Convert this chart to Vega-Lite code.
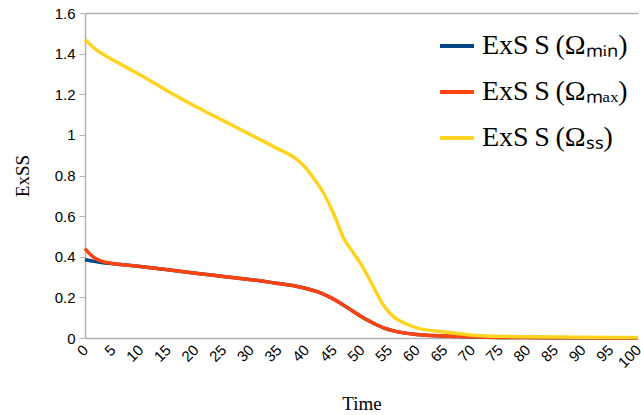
{
  "$schema": "https://vega.github.io/schema/vega-lite/v6.json",
  "autosize": "none",
  "width": 553,
  "height": 325,
  "padding": {"left": 85, "top": 13, "right": 3, "bottom": 77},
  "background": "white",
  "config": {"view": {"stroke": null}},
  "datasets": {
    "rows": [
      {"t": 0, "s": "min", "v": 0.385},
      {"t": 1, "s": "min", "v": 0.38},
      {"t": 2, "s": "min", "v": 0.376},
      {"t": 3, "s": "min", "v": 0.372},
      {"t": 5, "s": "min", "v": 0.366},
      {"t": 10, "s": "min", "v": 0.352},
      {"t": 15, "s": "min", "v": 0.336},
      {"t": 20, "s": "min", "v": 0.319},
      {"t": 25, "s": "min", "v": 0.303},
      {"t": 30, "s": "min", "v": 0.287},
      {"t": 35, "s": "min", "v": 0.268},
      {"t": 38, "s": "min", "v": 0.256},
      {"t": 40, "s": "min", "v": 0.244},
      {"t": 42, "s": "min", "v": 0.228},
      {"t": 44, "s": "min", "v": 0.205},
      {"t": 46, "s": "min", "v": 0.175},
      {"t": 48, "s": "min", "v": 0.14},
      {"t": 50, "s": "min", "v": 0.105},
      {"t": 52, "s": "min", "v": 0.075},
      {"t": 54, "s": "min", "v": 0.05},
      {"t": 56, "s": "min", "v": 0.034},
      {"t": 58, "s": "min", "v": 0.024},
      {"t": 60, "s": "min", "v": 0.017},
      {"t": 65, "s": "min", "v": 0.01},
      {"t": 70, "s": "min", "v": 0.006},
      {"t": 75, "s": "min", "v": 0.003},
      {"t": 80, "s": "min", "v": 0.002},
      {"t": 90, "s": "min", "v": 0.001},
      {"t": 100, "s": "min", "v": 0.0},
      {"t": 0, "s": "max", "v": 0.44},
      {"t": 1, "s": "max", "v": 0.41},
      {"t": 2, "s": "max", "v": 0.39},
      {"t": 3, "s": "max", "v": 0.378},
      {"t": 5, "s": "max", "v": 0.367},
      {"t": 10, "s": "max", "v": 0.352},
      {"t": 15, "s": "max", "v": 0.336},
      {"t": 20, "s": "max", "v": 0.319},
      {"t": 25, "s": "max", "v": 0.303},
      {"t": 30, "s": "max", "v": 0.287},
      {"t": 35, "s": "max", "v": 0.268},
      {"t": 38, "s": "max", "v": 0.256},
      {"t": 40, "s": "max", "v": 0.244},
      {"t": 42, "s": "max", "v": 0.228},
      {"t": 44, "s": "max", "v": 0.205},
      {"t": 46, "s": "max", "v": 0.175},
      {"t": 48, "s": "max", "v": 0.14},
      {"t": 50, "s": "max", "v": 0.105},
      {"t": 52, "s": "max", "v": 0.075},
      {"t": 54, "s": "max", "v": 0.05},
      {"t": 56, "s": "max", "v": 0.034},
      {"t": 58, "s": "max", "v": 0.024},
      {"t": 60, "s": "max", "v": 0.017},
      {"t": 65, "s": "max", "v": 0.01},
      {"t": 70, "s": "max", "v": 0.006},
      {"t": 75, "s": "max", "v": 0.003},
      {"t": 80, "s": "max", "v": 0.002},
      {"t": 90, "s": "max", "v": 0.001},
      {"t": 100, "s": "max", "v": 0.0},
      {"t": 0, "s": "ss", "v": 1.47},
      {"t": 2, "s": "ss", "v": 1.42},
      {"t": 4, "s": "ss", "v": 1.385},
      {"t": 6, "s": "ss", "v": 1.355},
      {"t": 8, "s": "ss", "v": 1.325},
      {"t": 10, "s": "ss", "v": 1.295},
      {"t": 15, "s": "ss", "v": 1.215},
      {"t": 20, "s": "ss", "v": 1.14},
      {"t": 25, "s": "ss", "v": 1.07},
      {"t": 30, "s": "ss", "v": 1.0},
      {"t": 35, "s": "ss", "v": 0.93},
      {"t": 38, "s": "ss", "v": 0.885},
      {"t": 40, "s": "ss", "v": 0.835},
      {"t": 41, "s": "ss", "v": 0.8},
      {"t": 43, "s": "ss", "v": 0.72},
      {"t": 45, "s": "ss", "v": 0.61},
      {"t": 47, "s": "ss", "v": 0.48},
      {"t": 48, "s": "ss", "v": 0.44},
      {"t": 50, "s": "ss", "v": 0.36},
      {"t": 52, "s": "ss", "v": 0.26},
      {"t": 54, "s": "ss", "v": 0.16},
      {"t": 56, "s": "ss", "v": 0.1},
      {"t": 58, "s": "ss", "v": 0.07},
      {"t": 60, "s": "ss", "v": 0.05},
      {"t": 65, "s": "ss", "v": 0.03},
      {"t": 70, "s": "ss", "v": 0.014},
      {"t": 75, "s": "ss", "v": 0.008},
      {"t": 80, "s": "ss", "v": 0.006},
      {"t": 90, "s": "ss", "v": 0.004},
      {"t": 100, "s": "ss", "v": 0.002}
    ]
  },
  "data": {"name": "rows"},
  "encoding": {
    "x": {
      "field": "t", "type": "quantitative",
      "scale": {"domain": [0, 100], "nice": false, "zero": false},
      "axis": {
        "title": "Time", "values": [0,5,10,15,20,25,30,35,40,45,50,55,60,65,70,75,80,85,90,95,100],
        "labelAngle": -45, "labelAlign": "right", "labelBaseline": "middle",
        "labelFont": "Liberation Sans", "labelFontSize": 15, "labelColor": "#000",
        "labelPadding": 9, "ticks": false, "grid": false, "labelFlush": false, "labelOverlap": false,
        "domainColor": "#b3b3b3", "domainWidth": 1.5,
        "titleFont": "Liberation Serif", "titleFontSize": 19, "titleFontWeight": "normal", "titleColor": "#000",
        "titlePadding": 24
      }
    },
    "y": {
      "field": "v", "type": "quantitative",
      "scale": {"domain": [0, 1.6], "nice": false},
      "axis": {
        "title": "ExSS", "values": [0,0.2,0.4,0.6,0.8,1,1.2,1.4,1.6], "format": "~g",
        "labelFont": "Liberation Sans", "labelFontSize": 15, "labelColor": "#000",
        "tickColor": "#b3b3b3", "tickSize": 6, "labelPadding": 4,
        "domainColor": "#b3b3b3", "domainWidth": 1.5,
        "grid": true,
        "gridColor": {"condition": {"test": "datum.value == 1.6", "value": "#b3b3b3"}, "value": "transparent"},
        "gridWidth": 1.5,
        "titleFont": "Liberation Serif", "titleFontSize": 19, "titleFontWeight": "normal", "titleColor": "#000",
        "titlePadding": 22
      }
    },
    "color": {
      "field": "s", "type": "nominal",
      "scale": {"domain": ["min", "max", "ss"], "range": ["#004586", "#ff420e", "#ffd320"]},
      "legend": {
        "title": null, "orient": "none", "legendX": 353, "legendY": 14,
        "symbolType": "stroke", "symbolSize": 1156, "symbolStrokeWidth": 4,
        "labelExpr": "datum.value == 'min' ? 'ExS\u2009S\u2009(Ωₘᵢₙ)' : datum.value == 'max' ? 'ExS\u2009S\u2009(Ωₘₐₓ)' : 'ExS\u2009S\u2009(Ωₛₛ)'",
        "labelFont": "Liberation Serif", "labelFontSize": 28, "labelColor": "#000",
        "labelLimit": 300, "rowPadding": 13, "labelOffset": 6
      }
    }
  },
  "layer": [
    {"transform": [{"filter": "datum.s == 'min'"}], "mark": {"type": "line", "strokeWidth": 3.5, "interpolate": "monotone"}},
    {"transform": [{"filter": "datum.s == 'max'"}], "mark": {"type": "line", "strokeWidth": 3.5, "interpolate": "monotone"}},
    {"transform": [{"filter": "datum.s == 'ss'"}], "mark": {"type": "line", "strokeWidth": 3.5, "interpolate": "monotone"}}
  ]
}
